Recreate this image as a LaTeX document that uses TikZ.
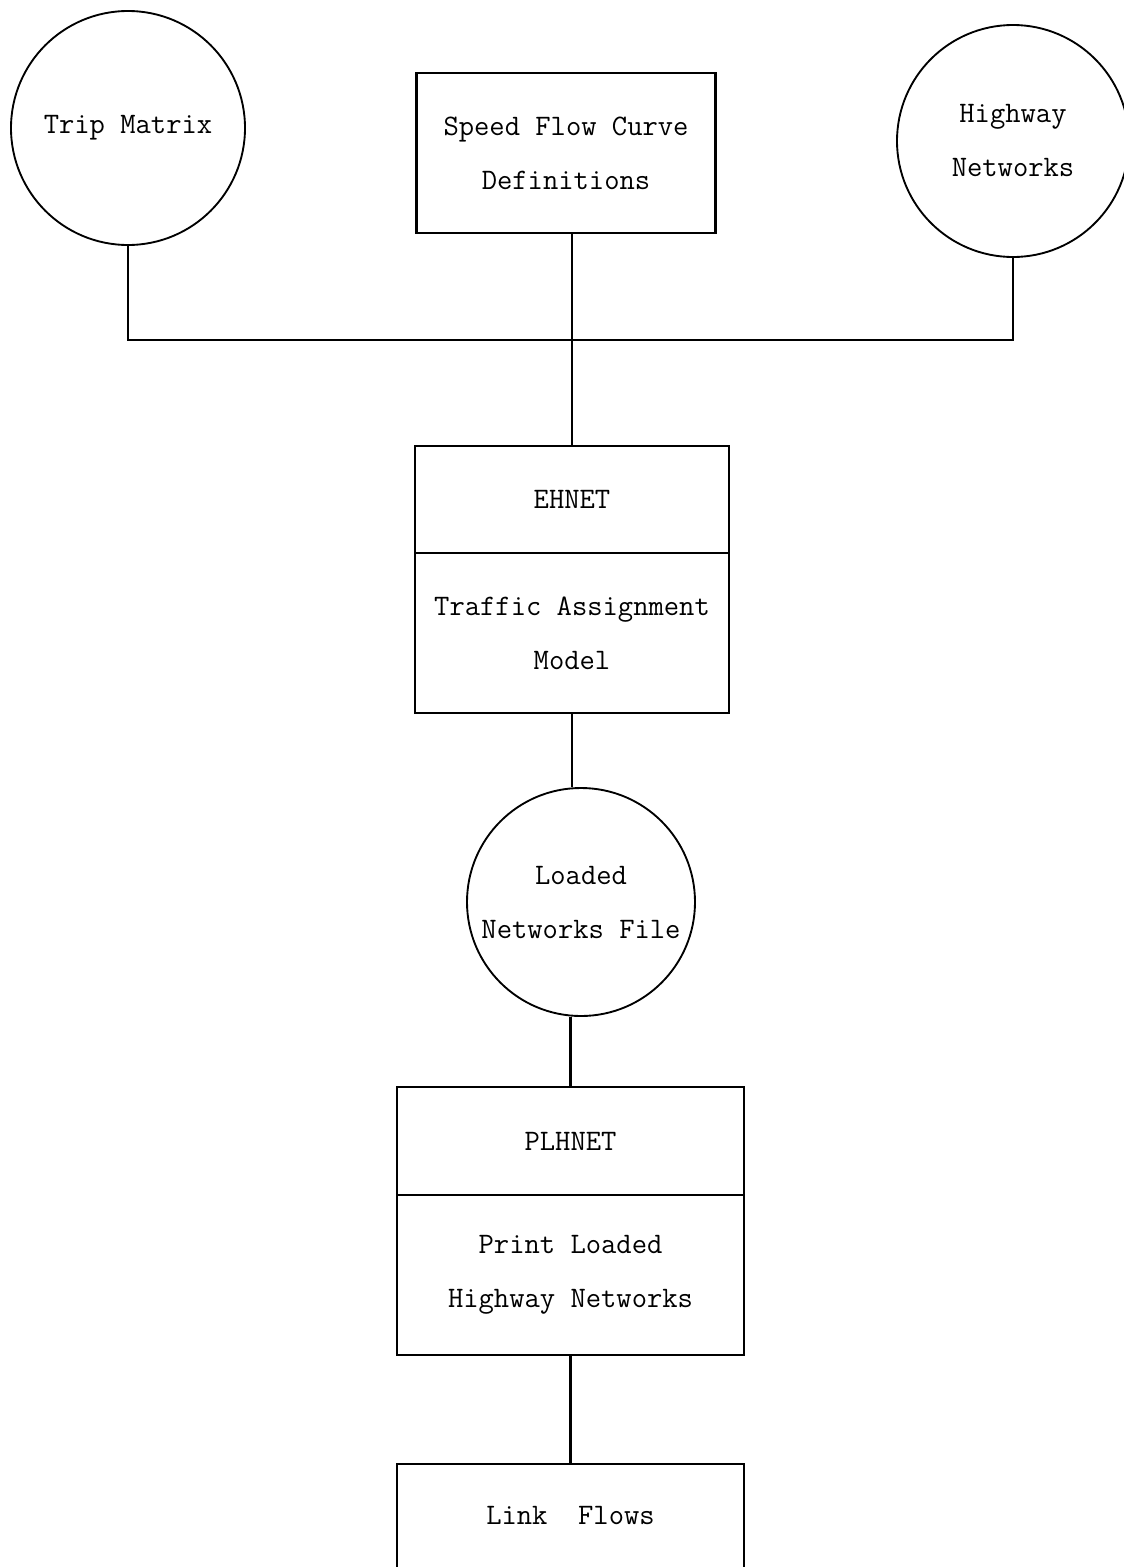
\documentclass[tikz,border=0pt]{standalone}
\usepackage{fontspec}
\begin{document}
\begin{tikzpicture}[x=0.75pt,y=-0.75pt,
  txt/.style={font=\ttfamily\fontsize{22.3}{40.5}\selectfont, align=center, inner sep=0pt},
  circ/.style={txt, draw, circle, line width=1.4pt},
  boxnode/.style={txt, draw, rectangle, line width=1.8pt, outer sep=0pt},
  conn/.style={line width=1.8pt}]
\useasboundingbox (0,0) rectangle (1124,1567);
\fill[white] (0,0) rectangle (1124,1567);

\node[circ, minimum size=175.5pt] (trip) at (128,128) {Trip Matrix};
\node[boxnode, minimum width=224.25pt, minimum height=120pt] (speed) at (566,153) {Speed Flow Curve\\Definitions};
\node[circ, minimum size=174pt] (high) at (1013,141) {Highway\\Networks};

\node[boxnode, minimum width=235.5pt, minimum height=80.25pt] (ehA) at (572,499.5) {EHNET};
\node[boxnode, minimum width=235.5pt, minimum height=120pt, anchor=north] (ehB) at (ehA.south) {Traffic Assignment\\Model};

\node[circ, minimum size=171pt] (loaded) at (581,902) {Loaded\\Networks File};

\node[boxnode, minimum width=260.25pt, minimum height=81pt] (plA) at (570.5,1141) {PLHNET};
\node[boxnode, minimum width=260.25pt, minimum height=120pt, anchor=north] (plB) at (plA.south) {Print Loaded\\Highway Networks};

\node[txt, minimum width=260.25pt, minimum height=77.25pt, anchor=north, outer sep=0pt] (link) at (570.5,1464) {Link\ \ Flows};
\draw[line width=1.8pt] (link.south west) -- (link.north west) -- (link.north east) -- (link.south east);

\coordinate (bus) at (572,340);
\draw[conn] (trip.south) |- (bus) -| (high.south);
\draw[conn] (speed.south -| ehA.north) -- (ehA.north);
\draw[conn] (ehB.south) -- (ehB.south |- loaded.north);
\draw[conn] (loaded.south -| plA.north) -- (plA.north);
\draw[conn] (plB.south) -- (link.north);
\end{tikzpicture}
\end{document}
